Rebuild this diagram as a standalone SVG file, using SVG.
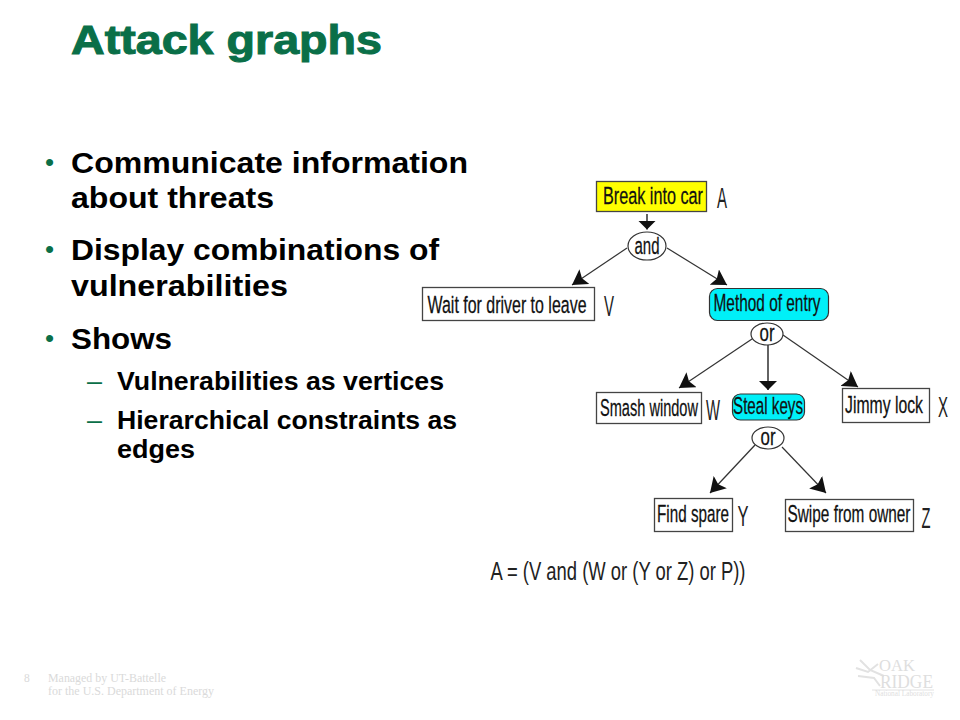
<svg xmlns="http://www.w3.org/2000/svg" width="960" height="720" viewBox="0 0 960 720">
<style>
.b{font-family:"Liberation Sans",Arial,sans-serif;font-weight:700;fill:#000}
.t{font-size:40px;fill:#0a6f48;stroke:#0a6f48;stroke-width:1px;font-family:"Liberation Sans",Arial,sans-serif;font-weight:700}
.l1{font-size:29px}.l2{font-size:25px}
.bu{font-family:"Liberation Sans",Arial,sans-serif;font-size:26px;fill:#0a6f48}
.da{font-family:"Liberation Sans",Arial,sans-serif;font-size:25px;fill:#0a6f48}
.d{font-family:"Liberation Sans Narrow","Liberation Sans",sans-serif;font-size:19px;fill:#111;text-anchor:middle;stroke:#111;stroke-width:.2px}
.k{font-family:"Liberation Sans Narrow","Liberation Sans",sans-serif;font-size:16px;fill:#222;text-anchor:middle}
.q{font-family:"Liberation Sans Narrow","Liberation Sans",sans-serif;font-size:22px;fill:#222;text-anchor:middle}
.box{fill:#fff;stroke:#444;stroke-width:1.3}
.cy{fill:#00f0f8;stroke:#333;stroke-width:1.2}
.el{fill:#fff;stroke:#333;stroke-width:1.2}
.c{fill:none;stroke:#333;stroke-width:1.2;marker-end:url(#a)}
.v{fill:none;stroke:#222;stroke-width:1.400;marker-end:url(#w)}
.f{font-family:"Liberation Serif",serif;font-size:11.500px;fill:#dadada}
.lg{font-family:"Liberation Serif",serif;fill:#dedede}
</style>
<defs>
<marker id="a" viewBox="0 0 15 18" refX="15" refY="9" markerWidth="15" markerHeight="18" markerUnits="userSpaceOnUse" orient="auto"><path d="M0 0L15 9L0 18L3 9Z" fill="#111"/></marker>
<marker id="w" viewBox="0 0 9 18" refX="9" refY="9" markerWidth="9" markerHeight="18" markerUnits="userSpaceOnUse" orient="auto"><path d="M0 0L9 9L0 18Z" fill="#111"/></marker>
</defs>
<rect width="960" height="720" fill="#fff"/>
<g id="title"><text class="t" x="71" y="54" textLength="311" lengthAdjust="spacingAndGlyphs">Attack graphs</text></g>
<g id="bullets">
<text class="bu" x="45" y="171">•</text><text class="b l1" x="71" y="173" textLength="397" lengthAdjust="spacingAndGlyphs">Communicate information</text>
<text class="b l1" x="71" y="208" textLength="203" lengthAdjust="spacingAndGlyphs">about threats</text>
<text class="bu" x="45" y="258">•</text><text class="b l1" x="71" y="260" textLength="368" lengthAdjust="spacingAndGlyphs">Display combinations of</text>
<text class="b l1" x="71" y="296" textLength="217" lengthAdjust="spacingAndGlyphs">vulnerabilities</text>
<text class="bu" x="45" y="347">•</text><text class="b l1" x="71" y="349" textLength="101" lengthAdjust="spacingAndGlyphs">Shows</text>
<text class="da" x="87" y="390" textLength="15" lengthAdjust="spacingAndGlyphs">–</text><text class="b l2" x="117" y="390" textLength="327" lengthAdjust="spacingAndGlyphs">Vulnerabilities as vertices</text>
<text class="da" x="87" y="429" textLength="15" lengthAdjust="spacingAndGlyphs">–</text><text class="b l2" x="117" y="429" textLength="340" lengthAdjust="spacingAndGlyphs">Hierarchical constraints as</text>
<text class="b l2" x="117" y="458" textLength="78" lengthAdjust="spacingAndGlyphs">edges</text>
</g>
<g id="connectors">
<path class="v" d="M647 214V229.500"/>
<path class="c" d="M627 248L572 285"/>
<path class="c" d="M667 248L727 285"/>
<path class="c" d="M752 339L679 388"/>
<path class="v" d="M768 345V390"/>
<path class="c" d="M783 335L858 387"/>
<path class="c" d="M755 445L710 493"/>
<path class="c" d="M782 447L826 493"/>
</g>
<g id="n-car"><rect x="596.500" y="181.500" width="110" height="30" fill="#ffff00" stroke="#444" stroke-width="1.300"/><text class="d" transform="translate(653 204) scale(1 1.260)" textLength="100" lengthAdjust="spacingAndGlyphs">Break into car</text></g>
<g id="n-and"><ellipse class="el" cx="647" cy="246" rx="19" ry="14"/><text class="d" transform="translate(647 254) scale(1 1.260)" textLength="25" lengthAdjust="spacingAndGlyphs">and</text></g>
<g id="n-wait"><rect class="box" x="422.500" y="287.500" width="172" height="33"/><text class="d" transform="translate(507 313) scale(1 1.260)" textLength="159" lengthAdjust="spacingAndGlyphs">Wait for driver to leave</text></g>
<g id="n-method"><rect class="cy" x="709.500" y="288.500" width="119" height="32" rx="8"/><text class="d" transform="translate(767 311) scale(1 1.260)" textLength="107" lengthAdjust="spacingAndGlyphs">Method of entry</text></g>
<g id="n-or1"><ellipse class="el" cx="767" cy="334" rx="16" ry="11"/><text class="d" transform="translate(767 341) scale(1 1.260)" textLength="15" lengthAdjust="spacingAndGlyphs">or</text></g>
<g id="n-smash"><rect class="box" x="596.500" y="392.500" width="105" height="31"/><text class="d" transform="translate(649 416) scale(1 1.260)" textLength="98" lengthAdjust="spacingAndGlyphs">Smash window</text></g>
<g id="n-steal"><rect class="cy" x="732.500" y="394" width="72" height="26" rx="8"/><text class="d" transform="translate(768 414) scale(1 1.260)" textLength="70" lengthAdjust="spacingAndGlyphs">Steal keys</text></g>
<g id="n-jimmy"><rect class="box" x="842.500" y="388.500" width="87" height="34"/><text class="d" transform="translate(884 413) scale(1 1.260)" textLength="78" lengthAdjust="spacingAndGlyphs">Jimmy lock</text></g>
<g id="n-or2"><ellipse class="el" cx="768" cy="438" rx="16" ry="11"/><text class="d" transform="translate(768 445) scale(1 1.260)" textLength="15" lengthAdjust="spacingAndGlyphs">or</text></g>
<g id="n-find"><rect class="box" x="654.500" y="498.500" width="78" height="33"/><text class="d" transform="translate(693 522) scale(1 1.260)" textLength="72" lengthAdjust="spacingAndGlyphs">Find spare</text></g>
<g id="n-swipe"><rect class="box" x="785.500" y="499.500" width="128" height="32"/><text class="d" transform="translate(849 522) scale(1 1.260)" textLength="123" lengthAdjust="spacingAndGlyphs">Swipe from owner</text></g>
<g id="letters">
<text class="k" transform="translate(722 208) scale(1 1.900)" textLength="10" lengthAdjust="spacingAndGlyphs">A</text>
<text class="k" transform="translate(609 316) scale(1 1.900)" textLength="10" lengthAdjust="spacingAndGlyphs">V</text>
<text class="k" transform="translate(713 420) scale(1 1.900)" textLength="14" lengthAdjust="spacingAndGlyphs">W</text>
<text class="k" transform="translate(943 417) scale(1 1.900)" textLength="10" lengthAdjust="spacingAndGlyphs">X</text>
<text class="k" transform="translate(743 526) scale(1 1.900)" textLength="11" lengthAdjust="spacingAndGlyphs">Y</text>
<text class="k" transform="translate(926 528) scale(1 1.900)" textLength="9" lengthAdjust="spacingAndGlyphs">Z</text>
<text class="q" transform="translate(618 580) scale(1 1.180)" textLength="255" lengthAdjust="spacingAndGlyphs">A = (V and (W or (Y or Z) or P))</text>
</g>
<g id="footer">
<text class="f" x="24" y="682">8</text>
<text class="f" x="48" y="682" textLength="118" lengthAdjust="spacingAndGlyphs">Managed by UT-Battelle</text>
<text class="f" x="48" y="695" textLength="166" lengthAdjust="spacingAndGlyphs">for the U.S. Department of Energy</text>
</g>
<g id="logo">
<path d="M856 668L868 672L878 664M860 660L870 670L884 676M858 676L874 678L880 686" fill="none" stroke="#e2e2e2" stroke-width="2"/>
<text class="lg" x="879" y="671" font-size="16" textLength="36" lengthAdjust="spacingAndGlyphs">OAK</text>
<text class="lg" x="880" y="688" font-size="18" textLength="53" lengthAdjust="spacingAndGlyphs">RIDGE</text>
<path d="M872 690H934" stroke="#e2e2e2" fill="none"/>
<text class="lg" x="875" y="696" font-size="7.500" textLength="59" lengthAdjust="spacingAndGlyphs">National Laboratory</text>
</g>
</svg>
